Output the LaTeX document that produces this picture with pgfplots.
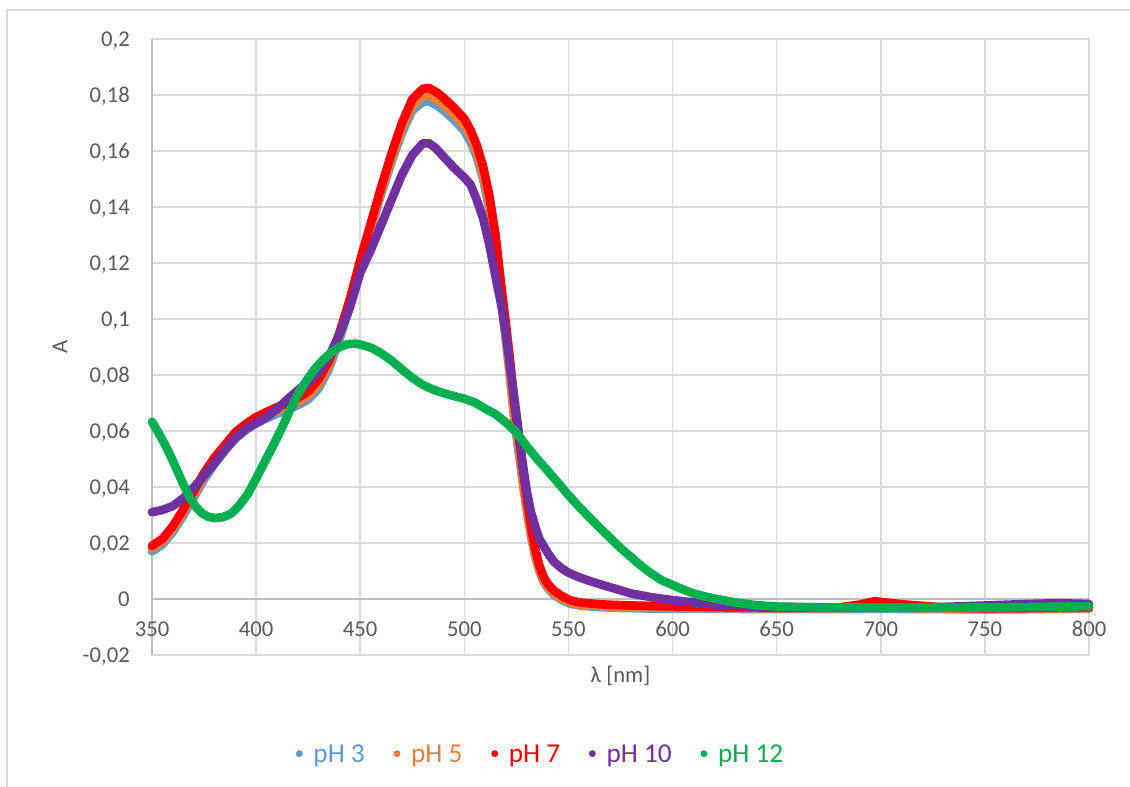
\documentclass[border=0pt]{standalone}
\usepackage{pgfplots}
\pgfplotsset{compat=1.18}
\usepackage{fontspec}
\setmainfont{Carlito}
\definecolor{cBlue}{HTML}{5B9BD5}
\definecolor{cOrange}{HTML}{ED7D31}
\definecolor{cRed}{HTML}{FF0000}
\definecolor{cPurple}{HTML}{7030A0}
\definecolor{cGreen}{HTML}{00B050}
\definecolor{cText}{HTML}{595959}
\definecolor{cGrid}{HTML}{D9D9D9}
\definecolor{cAxis}{HTML}{BFBFBF}
\begin{document}
\begin{tikzpicture}[x=1pt,y=1pt]
\useasboundingbox (0,0) rectangle (847.5,590.25);
\draw[color=cGrid, line width=1pt] (5.25,0) -- (5.25,582.75) -- (847.5,582.75);
\begin{axis}[
  at={(114pt,99pt)}, anchor=south west,
  scale only axis, width=702.75pt, height=462pt,
  xmin=350, xmax=800, ymin=-0.02, ymax=0.2,
  axis x line=middle, axis y line=left,
  axis line style={draw=cAxis, line width=1.1pt, -},
  hide obscured x ticks=false, hide obscured y ticks=false,
  xtick={350,400,450,500,550,600,650,700,750,800},
  xticklabels={350,400,450,500,550,600,650,700,750,800},
  ytick={-0.02,0,0.02,0.04,0.06,0.08,0.1,0.12,0.14,0.16,0.18,0.2},
  yticklabels={{-0,02},{0},{0,02},{0,04},{0,06},{0,08},{0,1},{0,12},{0,14},{0,16},{0,18},{0,2}},
  major tick length=0pt,
  grid=major, major grid style={draw=cGrid, line width=1.1pt},
  tick label style={font=\fontsize{17}{20}\selectfont, text=cText},
  xticklabel style={anchor=base, inner sep=0pt, yshift=-28.5pt},
  yticklabel style={anchor=base east, inner sep=0pt, xshift=-16.5pt, yshift=-5.4pt},
  xlabel={λ [nm]}, ylabel={A},
  label style={font=\fontsize{17}{20}\selectfont, text=cText},
  xlabel style={at={(axis description cs:0.5,-0.0341)}, anchor=center},
  ylabel style={at={(axis description cs:-0.0982,0.5)}, anchor=center},
  clip=false,
  every axis plot/.append style={line width=6.5pt, line join=round, line cap=round, no markers},
  legend image code/.code={\path[fill, draw=none, line width=0pt] (2.6pt,6.5pt) circle (2.6pt);},
  legend columns=5,
  legend style={at={(axis description cs:0.1535,-0.1614)}, anchor=west, draw=none, fill=none,
    inner sep=0pt, outer sep=0pt, font=\fontsize{20.5}{24}\selectfont,
    nodes={inner sep=0pt, anchor=base west},
    /tikz/every odd column/.append style={column sep=8pt},
    /tikz/every even column/.append style={column sep=21.5pt}},
]
\addplot[color=cBlue] table {
350 0.0170
355 0.0195
360 0.0240
365 0.0298
370 0.0362
375 0.0427
380 0.0482
385 0.0530
390 0.0573
395 0.0603
400 0.0627
405 0.0645
410 0.0662
415 0.0677
420 0.0692
425 0.0713
430 0.0752
435 0.0822
440 0.0925
445 0.1045
450 0.1185
455 0.1315
460 0.1445
465 0.1560
470 0.1665
475 0.1745
480 0.1775
483 0.1778
487 0.1762
490 0.1745
495 0.1712
500 0.1672
503 0.1632
506 0.1578
509 0.1500
512 0.1390
515 0.1245
518 0.1045
520 0.0920
522 0.0785
524 0.0640
526 0.0530
528 0.0418
530 0.0315
532 0.0225
534 0.0152
536 0.0100
538 0.0063
540 0.0040
543 0.0015
547 -0.0005
551 -0.0017
556 -0.0024
565 -0.0029
575 -0.0032
590 -0.0034
620 -0.0035
650 -0.0036
680 -0.0036
700 -0.0035
720 -0.0036
750 -0.0037
780 -0.0036
800 -0.0035
};
\addlegendentry{\textcolor{cBlue}{pH 3}}
\addplot[color=cOrange] table {
350 0.0180
355 0.0205
360 0.0250
365 0.0308
370 0.0372
375 0.0437
380 0.0492
385 0.0540
390 0.0583
395 0.0613
400 0.0637
405 0.0655
410 0.0672
415 0.0688
420 0.0703
425 0.0725
430 0.0765
435 0.0835
440 0.0935
445 0.1055
450 0.1195
455 0.1325
460 0.1455
465 0.1570
470 0.1680
475 0.1760
480 0.1795
483 0.1798
487 0.1782
490 0.1765
495 0.1730
500 0.1690
503 0.1650
506 0.1595
509 0.1515
512 0.1405
515 0.1260
518 0.1060
520 0.0935
522 0.0800
524 0.0655
526 0.0545
528 0.0430
530 0.0325
532 0.0232
534 0.0158
536 0.0105
538 0.0068
540 0.0045
543 0.0020
547 0.0000
551 -0.0013
556 -0.0020
565 -0.0025
575 -0.0028
590 -0.0030
620 -0.0032
650 -0.0033
680 -0.0033
700 -0.0030
720 -0.0033
750 -0.0035
780 -0.0034
800 -0.0033
};
\addlegendentry{\textcolor{cOrange}{pH 5}}
\addplot[color=cRed] table {
350 0.0190
355 0.0215
360 0.0260
365 0.0320
370 0.0385
375 0.0450
380 0.0505
385 0.0550
390 0.0595
395 0.0625
400 0.0650
405 0.0668
410 0.0685
415 0.0700
420 0.0718
425 0.0742
430 0.0785
435 0.0850
440 0.0950
445 0.1070
450 0.1210
455 0.1340
460 0.1470
465 0.1590
470 0.1700
475 0.1785
480 0.1822
483 0.1825
487 0.1808
490 0.1790
495 0.1755
500 0.1715
503 0.1675
506 0.1620
509 0.1545
512 0.1440
515 0.1300
518 0.1100
520 0.0980
522 0.0850
524 0.0700
526 0.0590
528 0.0470
530 0.0360
532 0.0260
534 0.0180
536 0.0120
538 0.0080
540 0.0055
543 0.0030
547 0.0010
551 -0.0005
556 -0.0013
565 -0.0019
575 -0.0022
590 -0.0025
605 -0.0027
620 -0.0029
640 -0.0030
660 -0.0031
680 -0.0030
690 -0.0020
697 -0.0008
705 -0.0015
715 -0.0022
730 -0.0030
750 -0.0033
770 -0.0032
785 -0.0030
800 -0.0030
};
\addlegendentry{\textcolor{cRed}{pH 7}}
\addplot[color=cPurple] table {
350 0.0310
355 0.0318
360 0.0332
365 0.0360
370 0.0398
375 0.0440
380 0.0485
385 0.0532
390 0.0575
395 0.0607
400 0.0628
405 0.0650
410 0.0678
415 0.0713
420 0.0745
425 0.0773
430 0.0810
435 0.0865
440 0.0945
445 0.1040
450 0.1165
455 0.1245
460 0.1335
465 0.1425
470 0.1515
475 0.1585
480 0.1627
483 0.1628
486 0.1612
490 0.1580
495 0.1540
500 0.1505
503 0.1480
506 0.1425
509 0.1360
512 0.1265
515 0.1150
518 0.1040
520 0.0945
522 0.0830
524 0.0720
526 0.0600
528 0.0485
530 0.0385
532 0.0310
534 0.0260
536 0.0215
540 0.0165
543 0.0133
547 0.0108
550 0.0094
555 0.0078
560 0.0065
565 0.0053
570 0.0042
575 0.0031
580 0.0020
590 0.0006
600 -0.0004
610 -0.0012
620 -0.0020
630 -0.0024
640 -0.0027
660 -0.0029
680 -0.0030
700 -0.0030
720 -0.0031
740 -0.0026
755 -0.0022
770 -0.0018
785 -0.0015
800 -0.0018
};
\addlegendentry{\textcolor{cPurple}{pH 10}}
\addplot[color=cGreen] table {
350 0.0633
353 0.0595
356 0.0555
359 0.0510
362 0.0460
365 0.0410
368 0.0365
371 0.0330
374 0.0306
377 0.0294
380 0.0289
384 0.0292
388 0.0305
392 0.0335
396 0.0375
400 0.0430
404 0.0488
408 0.0545
412 0.0605
416 0.0670
420 0.0730
424 0.0778
428 0.0820
432 0.0853
436 0.0880
440 0.0900
444 0.0910
448 0.0912
452 0.0905
456 0.0895
460 0.0878
465 0.0852
470 0.0820
475 0.0790
480 0.0765
485 0.0748
490 0.0735
495 0.0725
500 0.0715
505 0.0702
510 0.0680
515 0.0660
520 0.0630
525 0.0595
530 0.0545
535 0.0500
540 0.0458
545 0.0415
550 0.0371
555 0.0330
560 0.0292
565 0.0255
570 0.0218
575 0.0182
580 0.0150
585 0.0118
590 0.0090
595 0.0066
600 0.0050
605 0.0034
610 0.0020
615 0.0010
620 0.0002
630 -0.0012
640 -0.0022
650 -0.0027
670 -0.0030
700 -0.0030
730 -0.0031
760 -0.0030
780 -0.0028
800 -0.0026
};
\addlegendentry{\textcolor{cGreen}{pH 12}}
\end{axis}
\end{tikzpicture}
\end{document}
